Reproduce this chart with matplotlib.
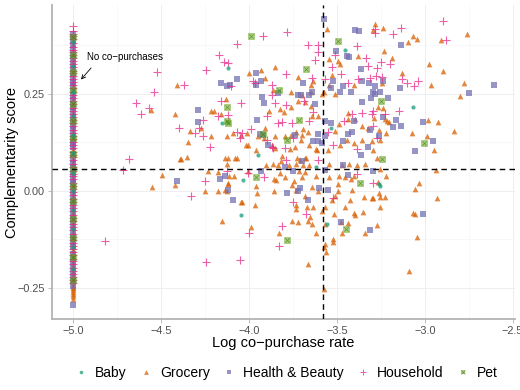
import numpy as np
import matplotlib
matplotlib.use("Agg")
import matplotlib.pyplot as plt
from matplotlib.lines import Line2D
from matplotlib.legend_handler import HandlerTuple
from matplotlib.ticker import MultipleLocator

plt.rcParams['font.family'] = ['Liberation Sans', 'DejaVu Sans']

# ---------------- data ----------------
categories = ["Baby", "Grocery", "Health & Beauty", "Household", "Pet"]
NO_COPURCHASE_LOG = -5.0
x_threshold = -3.58
y_threshold = 0.056

# products with co-purchases (log rate, complementarity)
baby_x = [-4.119, -4.153, -3.455, -3.534, -3.949, -3.068, -4.034, -4.045, -3.619, -3.557, -3.261, -3.256]
baby_y = [0.317, 0.175, 0.363, 0.162, 0.091, 0.216, 0.028, -0.063, 0.061, -0.086, 0.018, 0.013]

pet_x = [-3.989, -3.676, -3.830, -4.125, -3.716, -3.784, -3.920, -3.494, -4.125, -4.119, -3.250,
         -3.006, -3.244, -3.960, -3.784, -3.449, -3.369]
pet_y = [0.398, 0.315, 0.259, 0.216, 0.183, 0.132, 0.147, 0.386, 0.180, 0.175, 0.231,
         0.122, 0.081, 0.036, -0.127, -0.099, 0.020]

health_x = [-4.159, -4.125, -4.290, -4.290, -3.574, -3.398, -3.375, -3.443, -3.432, -3.506, -3.364,
            -3.693, -3.960, -3.932, -4.068, -4.108, -3.960, -3.835, -3.722, -3.705, -3.659, -3.642,
            -3.625, -3.926, -3.915, -3.955, -3.938, -3.920, -3.523, -3.534, -3.483, -3.466, -3.420,
            -3.358, -3.318, -3.307, -3.358, -3.568, -3.534, -3.608, -3.608, -3.585, -3.438, -3.415,
            -3.324, -3.364, -3.466, -3.892, -3.739, -3.636, -3.568, -3.403, -3.312, -3.295,
            -3.136, -3.284, -3.239, -3.142, -3.256, -3.210, -3.284, -2.750, -2.608, -3.165, -3.011,
            -3.239, -3.182, -3.136, -3.261, -2.955, -3.057,
            -4.409, -4.165, -4.136, -4.119, -4.091, -3.932, -3.795, -3.750, -3.710, -3.722, -3.784,
            -3.665, -3.602, -3.568, -3.551, -3.466, -3.438, -3.477, -3.312, -3.295, -3.699, -3.011]
health_y = [0.277, 0.269, 0.208, 0.178, 0.442, 0.414, 0.411, 0.348, 0.345, 0.360, 0.315,
            0.279, 0.305, 0.284, 0.287, 0.272, 0.274, 0.251, 0.246, 0.246, 0.246, 0.256,
            0.223, 0.241, 0.226, 0.183, 0.147, 0.145, 0.282, 0.264, 0.256, 0.269, 0.256,
            0.228, 0.277, 0.239, 0.282, 0.180, 0.175, 0.147, 0.129, 0.122, 0.147, 0.152,
            0.114, 0.091, 0.129, 0.117, 0.145, 0.129, 0.142, 0.180, 0.157, 0.254,
            0.376, 0.269, 0.282, 0.264, 0.254, 0.239, 0.249, 0.251, 0.272, 0.183, 0.178,
            0.190, 0.165, 0.168, 0.140, 0.129, 0.102,
            0.025, 0.030, 0.038, 0.003, -0.025, 0.051, 0.061, 0.051, 0.008, 0.000, -0.005,
            -0.025, 0.008, 0.053, 0.003, 0.066, 0.041, -0.081, -0.102, 0.051, 0.076, -0.061]

household_x = [-4.170, -4.142, -4.244, -4.523, -4.369, -4.540, -4.642, -4.614, -4.568, -4.398, -4.261,
               -4.284, -4.307, -4.261, -4.222, -4.682, -4.159, -4.119, -4.176,
               -3.784, -3.920, -4.068, -3.665, -3.608, -3.511, -3.386, -3.335, -3.324, -3.625, -3.608,
               -3.528, -3.790, -3.477, -3.977, -3.869, -3.642, -3.568, -3.438, -3.381, -3.312, -3.852,
               -3.790, -3.869, -3.688, -3.636, -3.898, -3.835, -3.813, -3.756, -4.045, -4.119, -4.102,
               -3.966, -3.989, -4.068, -4.040, -4.051, -3.898, -3.864, -3.795, -3.750, -3.523, -3.608,
               -3.551, -3.460, -3.415, -3.358, -3.301, -3.386, -3.659, -3.869,
               -2.898, -3.136, -3.284, -3.284, -3.182, -2.881, -3.250, -3.199, -3.273, -3.278, -3.244,
               -3.131, -3.102, -3.040, -3.063, -3.148, -3.295, -3.227, -3.295, -3.273,
               -4.716, -4.818, -4.250, -4.330, -4.244, -4.125,
               -4.000, -4.051, -3.915, -3.750, -3.676, -3.813, -3.830, -3.523, -3.386, -3.295, -3.790,
               -4.006]
household_y = [0.350, 0.332, 0.312, 0.307, 0.272, 0.256, 0.226, 0.198, 0.213, 0.162, 0.183,
               0.162, 0.150, 0.142, 0.112, 0.081, 0.231, 0.195, 0.193,
               0.409, 0.398, 0.378, 0.376, 0.376, 0.350, 0.373, 0.343, 0.322, 0.338, 0.358,
               0.320, 0.302, 0.302, 0.282, 0.272, 0.292, 0.289, 0.277, 0.287, 0.292, 0.226,
               0.221, 0.246, 0.231, 0.203, 0.193, 0.175, 0.178, 0.175, 0.226, 0.330, 0.269,
               0.277, 0.160, 0.152, 0.150, 0.135, 0.132, 0.109, 0.109, 0.137, 0.117, 0.079,
               0.152, 0.180, 0.198, 0.201, 0.198, 0.107, 0.180, 0.112,
               0.437, 0.421, 0.416, 0.406, 0.404, 0.388, 0.332, 0.327, 0.317, 0.297, 0.294,
               0.289, 0.277, 0.282, 0.269, 0.206, 0.206, 0.198, 0.168, 0.135,
               0.053, -0.129, 0.025, -0.013, -0.183, 0.051,
               -0.109, -0.178, 0.036, -0.028, -0.061, -0.091, -0.142, -0.018, 0.043, 0.020, 0.079,
               0.046]

grocery_x = [-4.409, -4.557, -4.420, -4.216, -4.199, -4.131, -4.159, -4.335, -4.273, -4.216, -4.347,
             -4.392, -4.352, -4.119,
             -3.852, -3.932, -3.909, -4.000, -3.557, -3.545, -3.528, -3.381, -3.403, -3.636, -3.648,
             -3.585, -3.511, -3.699, -3.722, -3.761, -3.824, -3.801, -3.886, -3.864, -3.682, -3.648,
             -3.642, -3.608, -3.438, -3.398, -3.358, -3.324, -3.438, -3.489, -3.511, -3.665, -3.693,
             -3.733, -3.761, -3.795, -3.852, -3.915, -3.949, -4.011, -4.045, -4.091, -4.125, -4.006,
             -4.017, -3.960, -3.869, -3.852, -3.767, -3.739, -3.705, -3.659, -3.614, -3.551, -3.483,
             -3.443, -3.403, -3.358, -3.301, -3.295, -4.068, -3.813, -3.727, -3.682, -3.619, -3.699,
             -3.761, -3.648, -3.494, -3.483, -3.909, -3.722, -3.574, -3.545,
             -3.284, -3.295, -3.239, -3.068, -3.045, -3.097, -2.909, -2.761, -3.233, -3.188, -2.977,
             -2.898, -3.131, -2.966, -2.778, -3.244, -2.801, -3.267, -3.239, -3.290, -3.227, -3.216,
             -3.205, -2.983, -2.926, -3.261, -3.222, -3.074, -2.835, -2.989, -3.256, -2.949, -3.273,
             -4.386, -4.494, -4.551, -4.420, -4.233, -4.176, -4.250, -4.176, -4.136, -4.119, -4.153,
             -4.125,
             -4.136, -4.080, -4.114, -4.085, -4.119, -4.125, -4.045, -3.989, -3.966, -3.955, -3.960,
             -4.006, -3.864, -3.824, -3.835, -3.773, -3.847, -3.858, -3.795, -3.744, -3.756, -3.733,
             -3.699, -3.682, -3.693, -3.676, -3.659, -3.642, -3.619, -3.608, -3.682, -3.733, -3.670,
             -3.636, -3.585, -3.568, -3.545, -3.545, -3.528, -3.511, -3.494, -3.494, -3.489, -3.455,
             -3.420, -3.403, -3.386, -3.432, -3.341, -3.472, -3.455, -3.517, -3.403, -3.398, -3.352,
             -3.347, -3.301, -3.415, -3.426, -3.477, -3.438, -3.472, -3.341, -3.568, -3.568, -3.523,
             -3.523, -3.574, -3.562, -3.574, -3.665, -3.619, -3.642, -3.665, -3.653, -3.722, -3.756,
             -3.830, -3.733, -4.040, -3.858, -3.733, -3.903, -3.818, -3.710, -3.716,
             -3.256, -3.222, -2.938, -3.034, -3.057, -2.932, -3.267, -3.261, -3.295, -3.256, -3.227,
             -3.256, -3.068, -3.057, -3.273, -3.045, -3.091]
grocery_y = [0.274, 0.208, 0.198, 0.206, 0.206, 0.236, 0.198, 0.155, 0.162, 0.142, 0.127,
             0.081, 0.086, 0.084,
             0.320, 0.312, 0.292, 0.305, 0.416, 0.340, 0.299, 0.348, 0.274, 0.282, 0.256,
             0.249, 0.249, 0.246, 0.231, 0.216, 0.211, 0.203, 0.206, 0.259, 0.228, 0.218,
             0.193, 0.193, 0.201, 0.185, 0.168, 0.162, 0.185, 0.173, 0.155, 0.152, 0.160,
             0.152, 0.145, 0.140, 0.142, 0.137, 0.142, 0.150, 0.145, 0.150, 0.140, 0.117,
             0.117, 0.104, 0.117, 0.109, 0.107, 0.114, 0.132, 0.117, 0.104, 0.104, 0.119,
             0.132, 0.122, 0.132, 0.129, 0.104, 0.084, 0.089, 0.084, 0.084, 0.107, 0.145,
             0.256, 0.274, 0.335, 0.327, 0.162, 0.294, 0.256, 0.272,
             0.431, 0.414, 0.419, 0.398, 0.391, 0.383, 0.388, 0.404, 0.360, 0.343, 0.327,
             0.310, 0.305, 0.274, 0.277, 0.279, 0.244, 0.216, 0.213, 0.188, 0.185, 0.180,
             0.178, 0.183, 0.178, 0.157, 0.150, 0.150, 0.155, 0.142, 0.132, 0.104, 0.084,
             0.081, 0.041, 0.010, 0.015, 0.051, 0.048, 0.000, 0.000, 0.003, 0.018, -0.079,
             0.069,
             0.084, 0.084, 0.038, 0.038, 0.020, 0.000, -0.030, -0.094, -0.036, -0.005, 0.013,
             0.051, 0.069, 0.046, 0.066, 0.066, 0.028, 0.000, 0.036, 0.025, 0.015, 0.003,
             0.036, 0.048, 0.066, 0.084, 0.066, 0.010, 0.038, 0.000, -0.013, -0.046, -0.041,
             -0.041, -0.053, -0.041, 0.069, 0.036, -0.025, -0.013, 0.000, 0.018, 0.038, 0.036,
             0.030, 0.038, 0.066, 0.069, 0.069, 0.066, -0.043, -0.061, -0.058, -0.063, -0.056,
             -0.015, -0.020, 0.003, -0.023, -0.081, -0.084, -0.109, -0.109, -0.086, -0.137, -0.124,
             -0.132, -0.145, -0.157, -0.254, -0.188, -0.109, -0.086, -0.079, -0.069, -0.081, -0.079,
             -0.109, -0.036, -0.028, 0.030, 0.069, 0.066, 0.076, 0.079, 0.051,
             0.056, 0.038, 0.053, 0.020, 0.005, -0.020, 0.023, -0.005, -0.020, -0.015, -0.015,
             -0.041, -0.058, -0.061, -0.089, -0.119, -0.208]

# products without co-purchases (all sit at the floor log value)
baby_strip_y = [0.383, 0.322, 0.255, 0.193, 0.144, 0.097, 0.047, -0.001, -0.050, -0.098, -0.146, -0.201]
pet_strip_y = [0.396, 0.349, 0.307, 0.261, 0.223, 0.180, 0.137, 0.094, 0.055, 0.012, -0.026,
               -0.074, -0.122, -0.171, -0.230]
health_strip_y = [0.405, 0.397, 0.388, 0.375, 0.362, 0.351, 0.340, 0.326, 0.313, 0.301, 0.290,
                  0.281, 0.272, 0.258, 0.244, 0.234, 0.225, 0.215, 0.206, 0.191, 0.177, 0.167,
                  0.158, 0.143, 0.128, 0.120, 0.112, 0.096, 0.081, 0.071, 0.062, 0.046, 0.031,
                  0.023, 0.015, -0.001, -0.017, -0.026, -0.035, -0.050, -0.066, -0.074, -0.082,
                  -0.098, -0.114, -0.122, -0.131, -0.146, -0.162, -0.174, -0.186, -0.202, -0.218,
                  -0.233, -0.247, -0.294]
household_strip_y = [0.426, 0.413, 0.405, 0.398, 0.392, 0.381, 0.371, 0.364, 0.358, 0.350, 0.343,
                     0.335, 0.327, 0.318, 0.310, 0.303, 0.296, 0.288, 0.281, 0.273, 0.265, 0.256,
                     0.247, 0.240, 0.232, 0.223, 0.214, 0.206, 0.198, 0.190, 0.182, 0.174, 0.166,
                     0.157, 0.149, 0.141, 0.133, 0.125, 0.118, 0.109, 0.101, 0.093, 0.086, 0.078,
                     0.070, 0.061, 0.052, 0.044, 0.037, 0.029, 0.021, 0.012, 0.004, -0.004, -0.012,
                     -0.021, -0.029, -0.037, -0.045, -0.053, -0.062, -0.070, -0.078, -0.085,
                     -0.093, -0.102, -0.111, -0.119, -0.127, -0.134, -0.142, -0.150, -0.158,
                     -0.166, -0.175, -0.182, -0.190, -0.199, -0.207, -0.215, -0.223, -0.231, -0.238]
grocery_strip_y = [0.398, 0.388, 0.379, 0.366, 0.352, 0.343, 0.334, 0.326, 0.318, 0.309, 0.301,
                   0.292, 0.284, 0.277, 0.270, 0.261, 0.252, 0.244, 0.236, 0.227, 0.219, 0.211,
                   0.203, 0.195, 0.187, 0.179, 0.171, 0.162, 0.154, 0.146, 0.139, 0.130, 0.122,
                   0.114, 0.106, 0.098, 0.091, 0.083, 0.075, 0.066, 0.058, 0.050, 0.043, 0.034,
                   0.026, 0.017, 0.009, 0.001, -0.006, -0.014, -0.022, -0.030, -0.038, -0.046,
                   -0.054, -0.062, -0.070, -0.078, -0.086, -0.094, -0.103, -0.111, -0.119,
                   -0.126, -0.134, -0.142, -0.150, -0.158, -0.166, -0.174, -0.182, -0.190,
                   -0.198, -0.206, -0.213, -0.221, -0.228, -0.236, -0.243, -0.248, -0.252,
                   -0.257, -0.262, -0.267, -0.271, -0.280]

x_ticks = [-5.0, -4.5, -4.0, -3.5, -3.0, -2.5]
y_ticks = [-0.25, 0.00, 0.25]

# ---------------- style ----------------
colors = {"Baby": "#1B9E77", "Grocery": "#D95F02", "Health & Beauty": "#7570B3",
          "Household": "#E7298A", "Pet": "#66A61E"}
ALPHA = 0.75

fig = plt.figure(figsize=(5.2, 3.9), dpi=100)
ax = fig.add_axes([0.100, 0.182, 0.890, 0.805])

ax.set_xlim(-5.12, -2.488)
ax.set_ylim(-0.331, 0.479)

ax.xaxis.set_minor_locator(MultipleLocator(0.25))
ax.yaxis.set_minor_locator(MultipleLocator(0.125))
ax.set_xticks(x_ticks)
ax.set_yticks(y_ticks)
ax.set_xticklabels([f"{v:.1f}".replace("-", "\u2212") for v in x_ticks])
ax.set_yticklabels([f"{v:.2f}".replace("-", "\u2212") for v in y_ticks])

ax.grid(which="major", color="#EBEBEB", linewidth=0.6)
ax.grid(which="minor", color="#F3F3F3", linewidth=0.4)
ax.set_axisbelow(True)
for s in ["top", "right"]:
    ax.spines[s].set_visible(False)
for s in ["left", "bottom"]:
    ax.spines[s].set_color("#B3B3B3")
    ax.spines[s].set_linewidth(1.3)
ax.tick_params(which="major", length=3, width=0.6, color="#B3B3B3",
               labelsize=7.8, labelcolor="#4D4D4D", pad=2)
ax.tick_params(which="minor", length=0)

def full_x(ys):
    return [NO_COPURCHASE_LOG] * len(ys)

def draw(cat, xs, ys):
    c = colors[cat]
    if cat == "Baby":
        ax.scatter(xs, ys, s=9, marker="o", color=c, alpha=ALPHA, linewidths=0)
    elif cat == "Grocery":
        ax.scatter(xs, ys, s=17, marker="^", color=c, alpha=ALPHA, linewidths=0)
    elif cat == "Health & Beauty":
        ax.scatter(xs, ys, s=13, marker="s", color=c, alpha=ALPHA, linewidths=0)
    elif cat == "Household":
        ax.scatter(xs, ys, s=26, marker="+", color=c, alpha=ALPHA, linewidths=0.8)
    elif cat == "Pet":
        ax.scatter(xs, ys, s=14, marker="s", facecolor=c, edgecolor=c, alpha=0.55, linewidths=0.5)
        ax.scatter(xs, ys, s=10, marker="x", color="#3d7a10", alpha=0.7, linewidths=0.5)

draw("Grocery", full_x(grocery_strip_y), grocery_strip_y)
draw("Health & Beauty", full_x(health_strip_y), health_strip_y)
draw("Household", full_x(household_strip_y), household_strip_y)
draw("Pet", full_x(pet_strip_y), pet_strip_y)
draw("Baby", full_x(baby_strip_y), baby_strip_y)

draw("Grocery", grocery_x, grocery_y)
draw("Health & Beauty", health_x, health_y)
draw("Household", household_x, household_y)
draw("Pet", pet_x, pet_y)
draw("Baby", baby_x, baby_y)

ax.axvline(x_threshold, color="black", linestyle=(0, (4, 3)), linewidth=1.0, zorder=5)
ax.axhline(y_threshold, color="black", linestyle=(0, (4, 3)), linewidth=1.0, zorder=5)

ax.annotate("No co\u2212purchases", xy=(-4.955, 0.287), xytext=(-4.92, 0.345),
            fontsize=7, ha="left", va="center",
            arrowprops=dict(arrowstyle="->", lw=0.6, color="black",
                            shrinkA=3, shrinkB=0, mutation_scale=7,
                            relpos=(0.12, 0.0)))

ax.set_xlabel("Log co\u2212purchase rate", fontsize=10.5, va="center")
ax.xaxis.set_label_coords(0.5, (319 - 343) / 314)
ax.set_ylabel("Complementarity score", fontsize=10.5, va="center")
ax.yaxis.set_label_coords((12 - 52) / 463, 0.5)

# legend
handles = [
    Line2D([], [], marker="o", linestyle="", color=colors["Baby"], markersize=2.6, alpha=ALPHA, markeredgewidth=0),
    Line2D([], [], marker="^", linestyle="", color=colors["Grocery"], markersize=3.4, alpha=ALPHA, markeredgewidth=0),
    Line2D([], [], marker="s", linestyle="", color=colors["Health & Beauty"], markersize=2.8, alpha=ALPHA, markeredgewidth=0),
    Line2D([], [], marker="+", linestyle="", color=colors["Household"], markersize=4.2, alpha=ALPHA, markeredgewidth=0.7),
    (Line2D([], [], marker="s", linestyle="", color=colors["Pet"], markersize=3.0, alpha=0.55, markeredgewidth=0),
     Line2D([], [], marker="x", linestyle="", color="#3d7a10", markersize=2.4, alpha=0.7, markeredgewidth=0.5)),
]
fig.legend(handles, categories, loc="center", bbox_to_anchor=(0.55, 1 - 373 / 390), ncol=5,
           frameon=False, fontsize=10, handlelength=1.0, handletextpad=0.5,
           columnspacing=0.9, handler_map={tuple: HandlerTuple(ndivide=1)})

fig.savefig("out.png", dpi=100)
